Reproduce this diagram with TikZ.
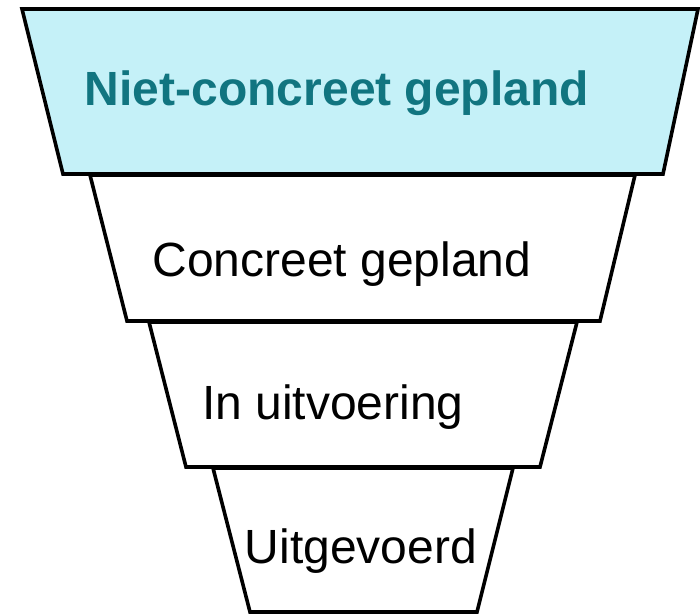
\documentclass[tikz,border=0pt]{standalone}
\usepackage{fontspec}
\setmainfont{Liberation Sans}
\definecolor{topfill}{HTML}{C5F1F8}
\definecolor{topink}{HTML}{117580}
\begin{document}
\begin{tikzpicture}[x=1pt,y=-1pt,
  funnel/.style={draw=black,line width=3.6pt,line join=miter},
  lbl/.style={anchor=base,inner sep=0pt,font=\fontsize{48}{50}\selectfont}]
\useasboundingbox (0,0) rectangle (700,614);
\draw[funnel,fill=topfill] (22,9) -- (698,9) -- (663,174) -- (63,174) -- cycle;
\draw[funnel] (90,175) -- (635,175) -- (600,321) -- (127,321) -- cycle;
\draw[funnel] (149,322) -- (577,322) -- (540,467) -- (186,467) -- cycle;
\draw[funnel] (213,468) -- (513,468) -- (477,612) -- (250,612) -- cycle;
\node[lbl,text=topink,font=\fontsize{48}{50}\selectfont\bfseries] (t1) at (337,105) {Niet-concreet gepland};
\node[lbl] (t2) at (342,276) {Concreet gepland};
\node[lbl] (t3) at (333,419) {In uitvoering};
\node[lbl] (t4) at (361,563) {Uitgevoerd};
\end{tikzpicture}
\end{document}
